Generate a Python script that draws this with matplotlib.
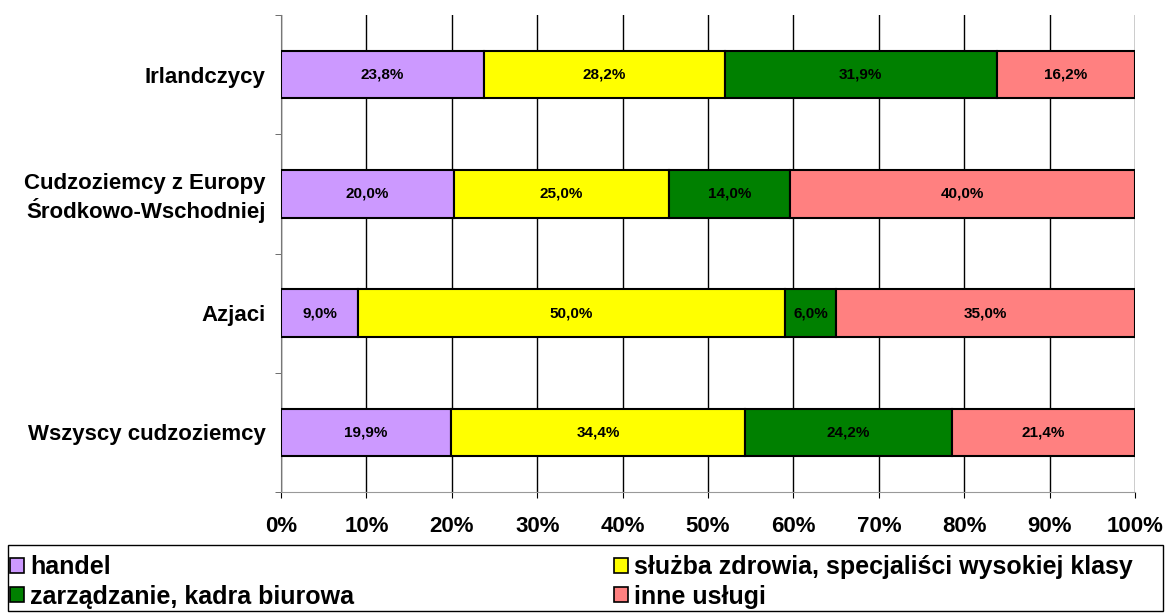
import numpy as np
import matplotlib.pyplot as plt
from matplotlib.patches import Rectangle
from matplotlib.ticker import MultipleLocator, FixedLocator, PercentFormatter

plt.rcParams['font.family'] = ['Liberation Sans', 'DejaVu Sans']
plt.rcParams['font.weight'] = 'bold'

grupy = ['Irlandczycy', 'Cudzoziemcy z Europy\nŚrodkowo-Wschodniej', 'Azjaci', 'Wszyscy cudzoziemcy']
kategorie = ['handel', 'służba zdrowia, specjaliści wysokiej klasy',
             'zarządzanie, kadra biurowa', 'inne usługi']
handel = [23.8, 20.0, 9.0, 19.9]
sluzba = [28.2, 25.0, 50.0, 34.4]
zarzadzanie = [31.9, 14.0, 6.0, 24.2]
inne = [16.2, 40.0, 35.0, 21.4]
kolory = ['#CC99FF', '#FFFF00', '#008000', '#FF8080']

serie = np.array([handel, sluzba, zarzadzanie, inne])
udzialy = serie / serie.sum(axis=0) * 100

fig = plt.figure(figsize=(11.68, 6.13), dpi=100)
ax = fig.add_axes([0.2406, 0.1974, 0.9718 - 0.2406, 0.9755 - 0.1974])

y = np.arange(len(grupy))
lewo = np.zeros(len(grupy))
slupki = []
for i in range(4):
    b = ax.barh(y, udzialy[i], left=lewo, height=0.4, color=kolory[i],
                edgecolor='black', linewidth=1.5, zorder=3, label=kategorie[i])
    slupki.append(b)
    for j in range(len(grupy)):
        ax.text(lewo[j] + udzialy[i][j] / 2, y[j], f'{serie[i][j]:.1f}%'.replace('.', ','),
                ha='center', va='center', fontsize=11, fontweight='bold', zorder=4)
    lewo += udzialy[i]

ax.set_xlim(0, 100)
ax.set_ylim(3.5, -0.5)
ax.xaxis.set_major_locator(MultipleLocator(10))
ax.xaxis.set_major_formatter(PercentFormatter(decimals=0))
ax.grid(axis='x', color='black', linewidth=1, zorder=0)
ax.set_yticks(y)
ax.set_yticklabels(grupy, fontsize=16, fontweight='bold', ha='right', linespacing=1.18)
ax.yaxis.set_minor_locator(FixedLocator([-0.5, 0.5, 1.5, 2.5, 3.5]))
ax.tick_params(axis='y', which='major', length=0, pad=11)
ax.tick_params(axis='y', which='minor', length=4.5, color='#555555')
ax.tick_params(axis='x', length=4.5, labelsize=16, pad=13, color='black')
for t in ax.get_xticklabels():
    t.set_fontweight('bold')
for s in ['top', 'right']:
    ax.spines[s].set_visible(False)
ax.spines['left'].set_color('#777777')
ax.spines['bottom'].set_color('#999999')

# ramka legendy i dwie kolumny wpisów
fig.patches.append(Rectangle((8 / 1168, 1 - 611 / 613), 1155 / 1168, 66 / 613,
                             transform=fig.transFigure, facecolor='white',
                             edgecolor='black', linewidth=1))
opcje = dict(loc='center left', fontsize=18, frameon=False, handlelength=0.55,
             handleheight=0.55, handletextpad=0.25, labelspacing=0.22,
             borderpad=0, borderaxespad=0)
for kol, x0 in [([0, 2], 10 / 1168), ([1, 3], 614 / 1168)]:
    leg = fig.legend([slupki[k] for k in kol], [kategorie[k] for k in kol],
                     bbox_to_anchor=(x0, 1 - 582 / 613), **opcje)
    for t in leg.get_texts():
        t.set_fontweight('bold')
    for h in leg.legend_handles:
        h.set_linewidth(1.2)

fig.savefig('out.png', dpi=100)
